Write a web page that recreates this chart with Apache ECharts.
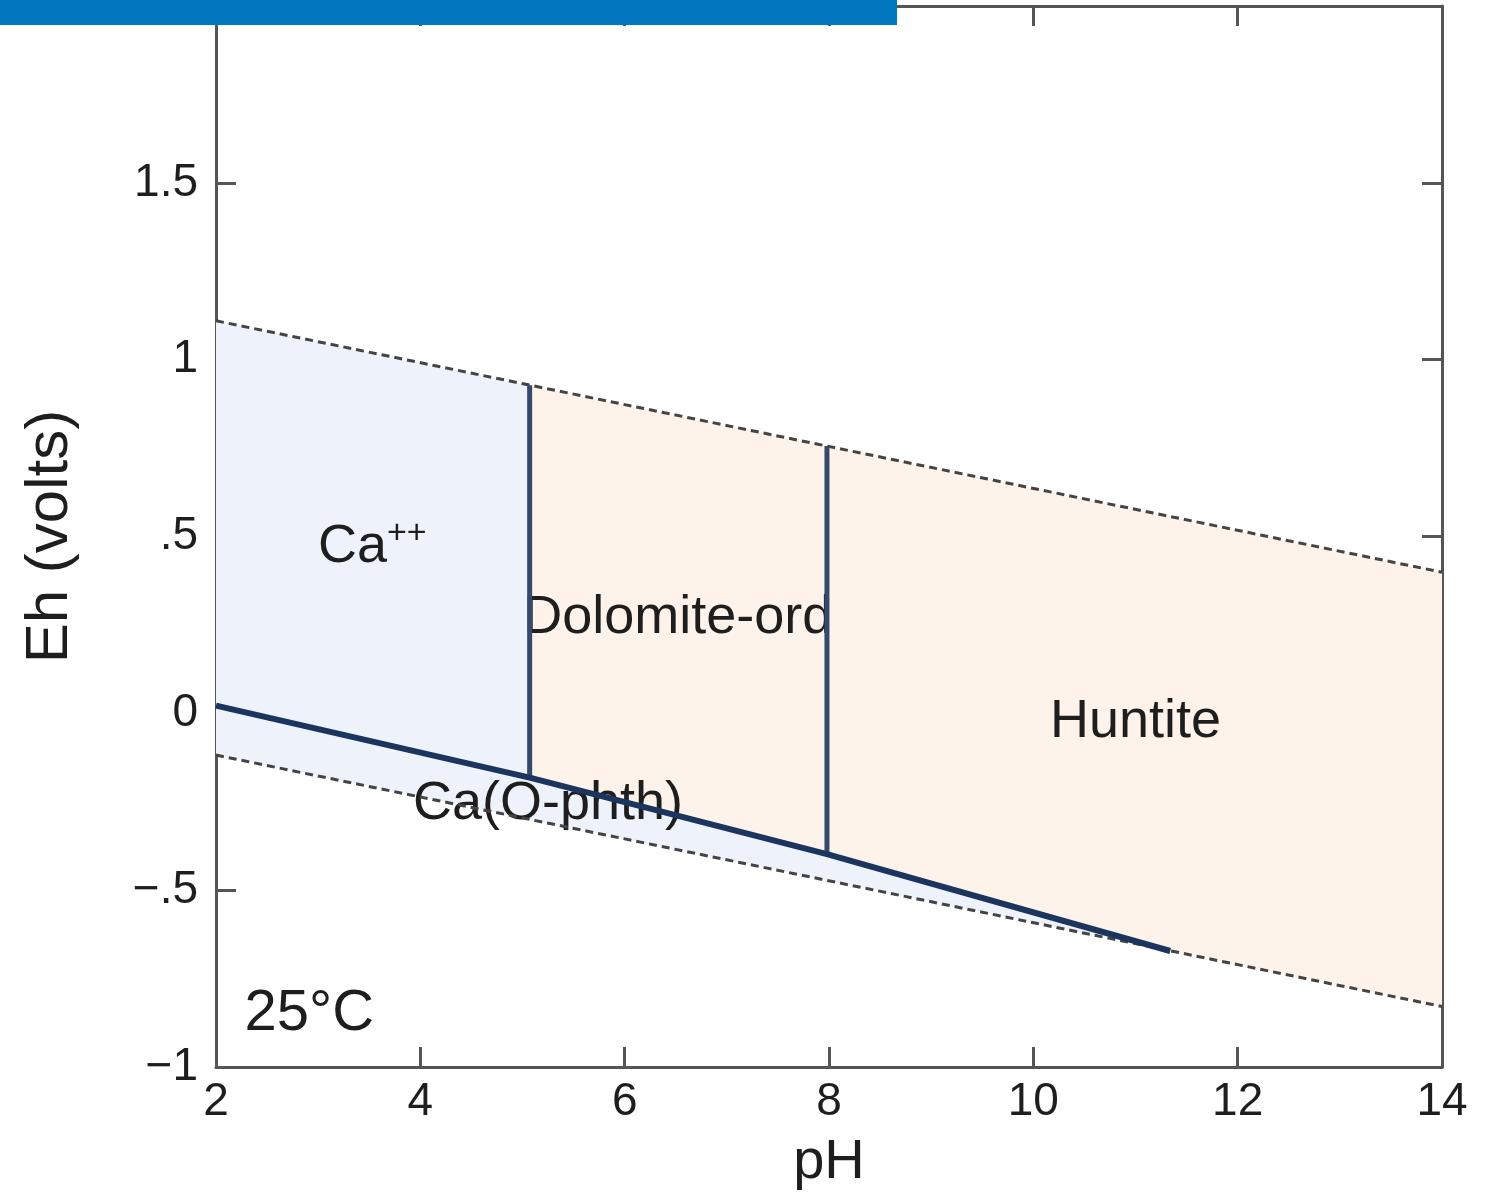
<!DOCTYPE html>
<html>
<head>
<meta charset="utf-8">
<title>Eh-pH diagram</title>
<script src="https://cdn.jsdelivr.net/npm/echarts@6/dist/echarts.min.js"></script>
<style>
  html, body { margin: 0; padding: 0; background: #fff; overflow: hidden; }
  #chart { width: 1486px; height: 1196px; }
</style>
</head>
<body>
<div id="chart"></div>
<script>
// boundary lines, [pH, Eh]
const upperWater = [[2, 1.11], [14, 0.399]];
const lowerWater = [[2, -0.118], [14, -0.829]];
const phthBoundary = [[2, 0.022], [5.07, -0.182], [7.98, -0.398], [11.34, -0.672]];
const dolomiteBoundary = [[5.07, 0.928], [5.07, -0.182]];
const huntiteBoundary = [[7.98, 0.756], [7.98, -0.398]];

// stability fields
const caField = [[2, 1.11], [5.07, 0.928], [5.07, -0.182], [2, 0.022]];
const phthField = [[2, 0.022], [5.07, -0.182], [7.98, -0.398], [11.34, -0.672], [2, -0.118]];
const dolomiteField = [[5.07, 0.928], [7.98, 0.756], [7.98, -0.398], [5.07, -0.182]];
const huntiteField = [[7.98, 0.756], [14, 0.399], [14, -0.829], [11.34, -0.672], [7.98, -0.398]];

// field labels
const fieldLabels = ['{m|Ca}{sup|++}', 'Dolomite-ord', 'Huntite', 'Ca(O-phth)'];
const fieldLabelPos = [[3.53, 0.47], [6.52, 0.27], [11.0, -0.025], [5.25, -0.258]];
const tempLabel = '25°C';
const tempLabelPos = [2.28, -0.85];

const yTickValues = [-1, -0.5, 0, 0.5, 1, 1.5, 2];
const yTickLabels = ['−1', '−.5', '0', '.5', '1', '1.5', ''];

const chart = echarts.init(document.getElementById('chart'));

const axisColor = '#555';
const textColor = '#1e1e1e';
const font = '"Liberation Sans", Arial, sans-serif';

function fieldSeries(points, color) {
  return {
    type: 'custom',
    coordinateSystem: 'cartesian2d',
    silent: true,
    z: 1,
    data: [points[0]],
    renderItem: (params, api) => ({
      type: 'polygon',
      shape: { points: points.map(p => api.coord(p)) },
      style: { fill: color }
    })
  };
}

function lineSeries(data, color, width, type, z) {
  return {
    type: 'line',
    data: data,
    symbol: 'none',
    silent: true,
    z: z,
    lineStyle: { color: color, width: width, type: type, cap: 'butt' }
  };
}

const tickStyle = { show: true, inside: true, length: 20, lineStyle: { color: axisColor, width: 3 } };
const lineStyleAxis = { show: true, onZero: false, lineStyle: { color: axisColor, width: 3 } };

const option = {
  animation: false,
  backgroundColor: '#fff',
  grid: { left: 216, right: 44, top: 6, bottom: 121 },
  xAxis: [
    {
      type: 'value', min: 2, max: 14, interval: 2,
      name: 'pH', nameLocation: 'middle', nameGap: 68,
      nameTextStyle: { fontFamily: font, fontSize: 56, color: textColor },
      axisLine: lineStyleAxis, axisTick: tickStyle,
      axisLabel: { fontFamily: font, fontSize: 46, color: textColor, margin: 12 },
      splitLine: { show: false }
    },
    {
      type: 'value', position: 'top', min: 2, max: 14, interval: 2,
      axisLine: lineStyleAxis, axisTick: tickStyle,
      axisLabel: { show: false }, splitLine: { show: false }
    }
  ],
  yAxis: [
    {
      type: 'value', min: -1, max: 2, interval: 0.5,
      name: 'Eh (volts)', nameLocation: 'middle', nameGap: 136,
      nameTextStyle: { fontFamily: font, fontSize: 60, color: textColor },
      axisLine: lineStyleAxis, axisTick: tickStyle,
      axisLabel: {
        fontFamily: font, fontSize: 46, color: textColor, margin: 18,
        formatter: v => {
          const i = yTickValues.findIndex(t => Math.abs(t - v) < 1e-6);
          return i >= 0 ? yTickLabels[i] : '';
        }
      },
      splitLine: { show: false }
    },
    {
      type: 'value', position: 'right', min: -1, max: 2, interval: 0.5,
      axisLine: lineStyleAxis, axisTick: tickStyle,
      axisLabel: { show: false }, splitLine: { show: false }
    }
  ],
  series: [
    fieldSeries(caField, '#eef2fa'),
    fieldSeries(phthField, '#eef2fa'),
    fieldSeries(dolomiteField, '#fdf3ea'),
    fieldSeries(huntiteField, '#fdf3ea'),
    {
      type: 'scatter',
      symbolSize: 0,
      silent: true,
      z: 2,
      itemStyle: { opacity: 1 },
      data: fieldLabelPos.map((p, i) => ({ value: p, name: fieldLabels[i] }))
        .concat([{ value: tempLabelPos, name: tempLabel, label: { align: 'left', fontSize: 58 } }]),
      label: {
        show: true,
        position: 'inside',
        opacity: 1,
        formatter: p => p.name,
        fontFamily: font,
        fontSize: 54,
        color: textColor,
        rich: {
          m: { fontFamily: font, fontSize: 54, color: textColor },
          sup: { fontFamily: font, fontSize: 34, color: textColor, verticalAlign: 'top', padding: [0, 0, 26, 0] }
        }
      }
    },
    lineSeries(upperWater, '#444', 3, [8, 5], 3),
    lineSeries(lowerWater, '#444', 3, [8, 5], 3),
    lineSeries(dolomiteBoundary, '#34496b', 5, 'solid', 4),
    lineSeries(huntiteBoundary, '#34496b', 5, 'solid', 4),
    lineSeries(phthBoundary, '#1c355e', 6, 'solid', 5)
  ],
  graphic: [
    {
      type: 'rect',
      left: 0, top: 0, z: 100,
      shape: { width: 897, height: 25 },
      style: { fill: '#0077bf' }
    }
  ]
};

chart.setOption(option);
</script>
</body>
</html>
